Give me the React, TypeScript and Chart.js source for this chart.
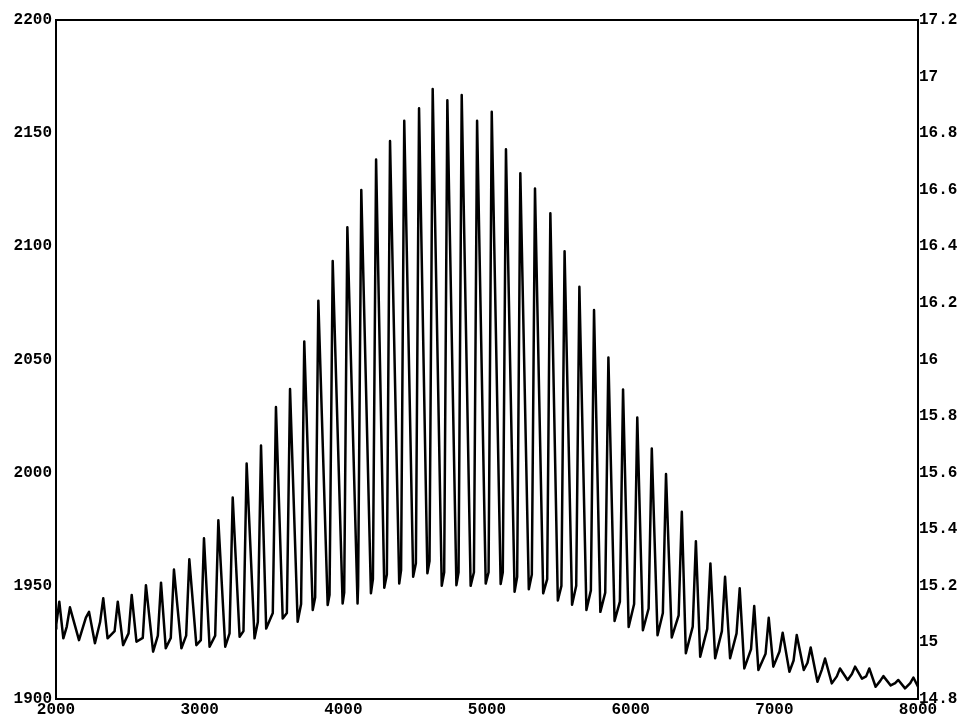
import React, { useEffect, useRef } from "react";
import { Chart, registerables } from "chart.js";

Chart.register(...registerables);

// Peak positions (x) and heights (left axis units)
const peakX = [
  2023, 2097, 2230, 2329, 2430, 2527, 2626, 2731, 2821, 2928,
  3030, 3130, 3230, 3327, 3427, 3531, 3629, 3728, 3826, 3926,
  4028, 4125, 4228, 4325, 4424, 4527, 4622, 4724, 4824, 4931,
  5033, 5132, 5232, 5334, 5441, 5540, 5643, 5745, 5845, 5947,
  6046, 6147, 6246, 6356, 6454, 6555, 6657, 6759, 6860, 6961,
  7058, 7156, 7253, 7353, 7457, 7562, 7661, 7759, 7863, 7968,
];
const peakY = [
  1943, 1940.5, 1938.5, 1944.5, 1943, 1946, 1950.3, 1951.4, 1957.2, 1961.7,
  1971, 1979, 1989, 2004, 2012, 2029, 2037, 2058, 2076, 2093.5,
  2108.4, 2124.9, 2138.4, 2146.5, 2155.5, 2161, 2169.5, 2164.5, 2166.9, 2155.5,
  2159.5, 2142.9, 2132.3, 2125.6, 2114.6, 2097.8, 2082.1, 2071.9, 2050.9, 2036.8,
  2024.4, 2010.7, 1999.4, 1982.7, 1969.7, 1959.9, 1954, 1948.9, 1941.1, 1935.9,
  1929.3, 1928.3, 1922.8, 1917.9, 1913.5, 1914.3, 1913.5, 1910.1, 1908.4, 1909.5,
];
// Value of the knee just before each peak
const kneeY = [
  1933, 1932, 1936, 1934, 1930, 1929, 1927, 1928, 1927, 1928,
  1926, 1928, 1929, 1930, 1934, 1938, 1938, 1942, 1945, 1946,
  1947, 1950, 1953, 1955, 1957, 1960, 1961, 1956, 1956, 1956,
  1956, 1956, 1954, 1955, 1953, 1950, 1950, 1948, 1947, 1943,
  1942, 1940, 1938, 1937, 1932, 1931, 1930, 1929, 1922, 1920,
  1921, 1917, 1916, 1913, 1910, 1911, 1910, 1908, 1907, 1907,
];
// Minimum following each peak
const troughX = [
  2051, 2160, 2271, 2359, 2467, 2560, 2676, 2764, 2873, 2977,
  3069, 3178, 3278, 3382, 3463, 3578, 3682, 3787, 3891, 3995,
  4099, 4192, 4285, 4389, 4486, 4585, 4685, 4787, 4886, 4991,
  5095, 5192, 5291, 5391, 5493, 5592, 5692, 5789, 5888, 5986,
  6085, 6187, 6286, 6384, 6484, 6588, 6692, 6791, 6889, 6993,
  7105, 7205, 7300, 7400, 7510, 7610, 7705, 7810, 7910, 8000,
];
const troughY = [
  1926.8, 1926, 1924.6, 1926.8, 1923.8, 1925.3, 1920.9, 1922.4, 1922.4, 1923.8,
  1923.1, 1923.1, 1927.5, 1926.8, 1931.1, 1935.6, 1934.1, 1939.3, 1941.5, 1942.2,
  1942.2, 1946.7, 1949.2, 1951, 1954, 1955.6, 1950, 1950.3, 1950, 1951,
  1950.8, 1947.4, 1948.5, 1946.7, 1943.5, 1941.6, 1939.3, 1938.5, 1934.5, 1931.8,
  1930.4, 1928.2, 1927.2, 1920.2, 1918.7, 1918, 1918, 1913.5, 1912.8, 1914.3,
  1912, 1912.8, 1907.6, 1906.9, 1908.4, 1909, 1905.4, 1906, 1904.7, 1905.4,
];
const startPoint = { x: 2000, y: 1931 };

const xTicks = [2000, 3000, 4000, 5000, 6000, 7000, 8000];
const leftTicks = [1900, 1950, 2000, 2050, 2100, 2150, 2200];
const rightTicks = [14.8, 15, 15.2, 15.4, 15.6, 15.8, 16, 16.2, 16.4, 16.6, 16.8, 17, 17.2];

function buildPoints() {
  const pts: { x: number; y: number }[] = [startPoint];
  for (let k = 0; k < peakX.length; k++) {
    const kx = Math.max(peakX[k] - 22, pts[pts.length - 1].x + 2);
    pts.push({ x: kx, y: kneeY[k] });
    pts.push({ x: peakX[k], y: peakY[k] });
    pts.push({ x: troughX[k], y: troughY[k] });
  }
  return pts;
}

const FONT = { family: "'Liberation Mono', 'DejaVu Sans Mono', monospace", size: 16, weight: "bold" as const };

const framePlugin = {
  id: "frame",
  afterDraw(chart: any) {
    const { ctx, chartArea } = chart;
    ctx.save();
    ctx.strokeStyle = "#000";
    ctx.lineWidth = 2;
    ctx.strokeRect(chartArea.left, chartArea.top, chartArea.right - chartArea.left, chartArea.bottom - chartArea.top);
    ctx.restore();
  },
};

export default function App() {
  const ref = useRef<HTMLCanvasElement | null>(null);
  useEffect(() => {
    if (!ref.current) return;
    const chart = new Chart(ref.current, {
      type: "line",
      data: {
        datasets: [
          {
            data: buildPoints(),
            borderColor: "#000",
            borderWidth: 2.5,
            borderJoinStyle: "round",
            pointRadius: 0,
            tension: 0,
            fill: false,
            yAxisID: "y",
          },
        ],
      },
      options: {
        responsive: false,
        animation: false,
        events: [],
        layout: { padding: { top: 20, left: 0, right: 0, bottom: 0 } },
        plugins: { legend: { display: false }, tooltip: { enabled: false } },
        scales: {
          x: {
            type: "linear",
            min: 2000,
            max: 8000,
            afterBuildTicks: (s: any) => { s.ticks = xTicks.map((v) => ({ value: v })); },
            afterFit: (s: any) => { s.height = 18; },
            grid: { display: false, drawTicks: false },
            border: { display: false },
            ticks: { color: "#000", font: FONT, padding: 1, maxRotation: 0, callback: (v: any) => String(v) },
          },
          y: {
            type: "linear",
            position: "left",
            min: 1900,
            max: 2200,
            afterBuildTicks: (s: any) => { s.ticks = leftTicks.map((v) => ({ value: v })); },
            afterFit: (s: any) => { s.width = 56; },
            grid: { display: false, drawTicks: false },
            border: { display: false },
            ticks: { color: "#000", font: FONT, padding: 4, callback: (v: any) => String(v) },
          },
          y2: {
            type: "linear",
            position: "right",
            display: true,
            min: 14.8,
            max: 17.2,
            afterBuildTicks: (s: any) => { s.ticks = rightTicks.map((v) => ({ value: v })); },
            afterFit: (s: any) => { s.width = 43; },
            grid: { display: false, drawTicks: false },
            border: { display: false },
            ticks: { color: "#000", font: FONT, padding: 1, callback: (v: any) => String(Number(Number(v).toFixed(1))) },
          },
        },
      },
      plugins: [framePlugin],
    });
    return () => chart.destroy();
  }, []);
  return (
    <div style={{ position: "fixed", left: 0, top: 0, width: 961, height: 717, background: "#fff" }}>
      <canvas ref={ref} width={961} height={717} style={{ display: "block" }} />
    </div>
  );
}
